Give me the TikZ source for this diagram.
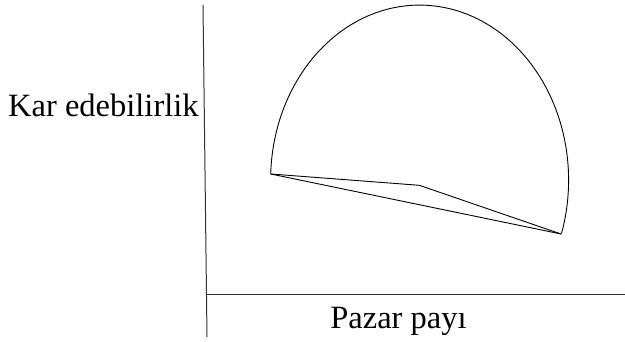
\documentclass[tikz,border=0pt]{standalone}
\usepackage{fontspec}
\setmainfont{Liberation Serif}
\begin{document}
\begin{tikzpicture}[x=1pt,y=1pt,
  axisline/.style={line width=1pt,black!80},
  outline/.style={line width=0.9pt,black},
  lbl/.style={inner sep=0pt,anchor=base}]
\useasboundingbox (0,0) rectangle (625,342);
% axes
\coordinate (ytop) at (203,337);
\coordinate (ybot) at (207,5);
\coordinate (xl) at (207,47.7);
\coordinate (xr) at (625,47.7);
\draw[axisline] (ytop) -- (ybot);
\draw[axisline] (xl) -- (xr);
% points
\coordinate (A) at (270.7,168);
\coordinate (B) at (419.3,156.7);
\coordinate (C) at (561,108);
\draw[outline] (A) arc[start angle=178, end angle=-17.8, x radius=149, y radius=175];
\draw[outline] (A) -- (B) -- (C);
\draw[outline] (A) -- (C);
% labels
\node[lbl,anchor=base west,font=\fontsize{32.5}{38}\selectfont] (ky) at (8,225.3) {Kar edebilirlik};
\node[lbl,font=\fontsize{32.5}{38}\selectfont] (kx) at (398.5,13.7) {Pazar payı};
\end{tikzpicture}
\end{document}
